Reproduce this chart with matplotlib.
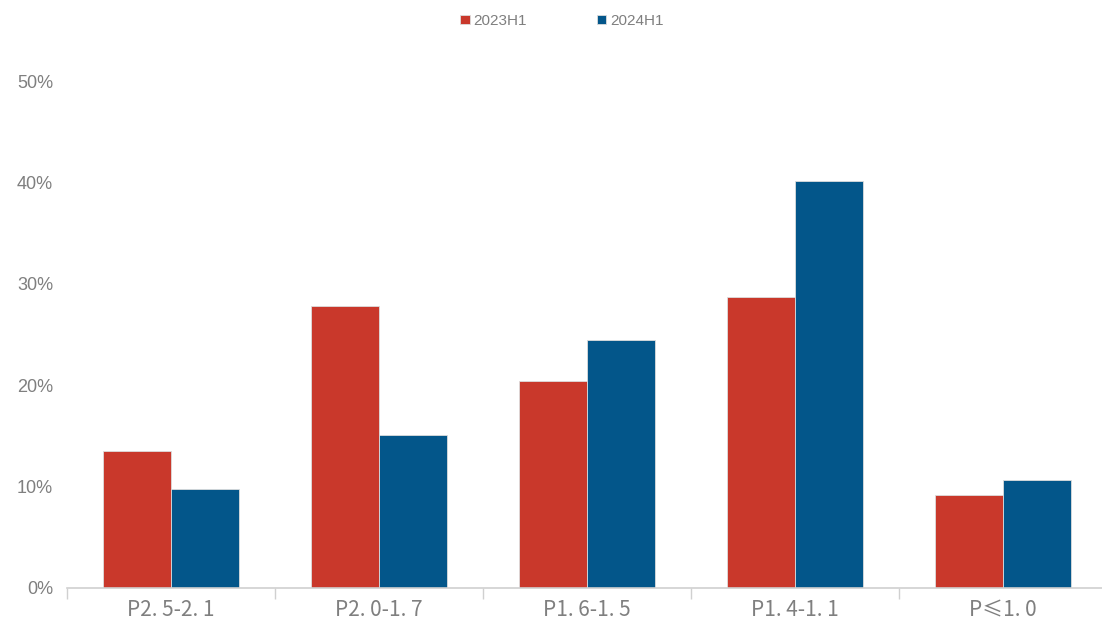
import numpy as np
import matplotlib.pyplot as plt
from matplotlib.ticker import FuncFormatter

plt.rcParams['font.family'] = ['Noto Sans CJK SC', 'DejaVu Sans']

categories = ['P2. 5-2. 1', 'P2. 0-1. 7', 'P1. 6-1. 5', 'P1. 4-1. 1', 'P≤1. 0']
series_names = ['2023H1', '2024H1']
h1_2023 = [13.5, 27.8, 20.4, 28.7, 9.2]
h1_2024 = [9.8, 15.1, 24.5, 40.1, 10.7]
y_ticks = [0, 10, 20, 30, 40, 50]

red = '#C9382B'
blue = '#03568A'
gray = '#7F7F7F'

fig = plt.figure(figsize=(11.02, 6.24), dpi=100)
ax = fig.add_axes([67 / 1102, 1 - 588 / 624, 1040 / 1102, 507 / 624])

x = np.arange(len(categories))
w = 0.327
ax.bar(x - w / 2, h1_2023, w, color=red, edgecolor='#DDDDDD', linewidth=0.6, label=series_names[0])
ax.bar(x + w / 2, h1_2024, w, color=blue, edgecolor='#DDDDDD', linewidth=0.6, label=series_names[1])

ax.set_xlim(-0.5, len(categories) - 0.5)
ax.set_ylim(0, 50)
ax.set_yticks(y_ticks)
ax.yaxis.set_major_formatter(FuncFormatter(lambda v, p: f'{v:.0f}%'))
for lab in ax.get_yticklabels():
    lab.set_family(['Liberation Sans', 'DejaVu Sans'])

ax.set_xticks(x)
ax.set_xticklabels(categories, fontsize=15, color=gray)
ax.set_xticks(np.arange(len(categories) + 1) - 0.5, minor=True)
ax.tick_params(axis='x', which='major', length=0, pad=8)
ax.tick_params(axis='x', which='minor', length=8, color='#D0D0D0', width=1)
ax.tick_params(axis='y', length=0, labelsize=13, labelcolor=gray, pad=10)

for s in ['top', 'right', 'left']:
    ax.spines[s].set_visible(False)
ax.spines['bottom'].set_color('#D0D0D0')
ax.spines['bottom'].set_linewidth(1.2)

leg = fig.legend(loc='upper center', bbox_to_anchor=(0.51, 1.0), ncol=2, frameon=False,
                 handlelength=0.6, handleheight=0.6, handletextpad=0.25, columnspacing=4.6,
                 prop={'family': ['Liberation Sans', 'DejaVu Sans'], 'size': 11})
for t in leg.get_texts():
    t.set_color(gray)

fig.savefig('out.png', dpi=100)
